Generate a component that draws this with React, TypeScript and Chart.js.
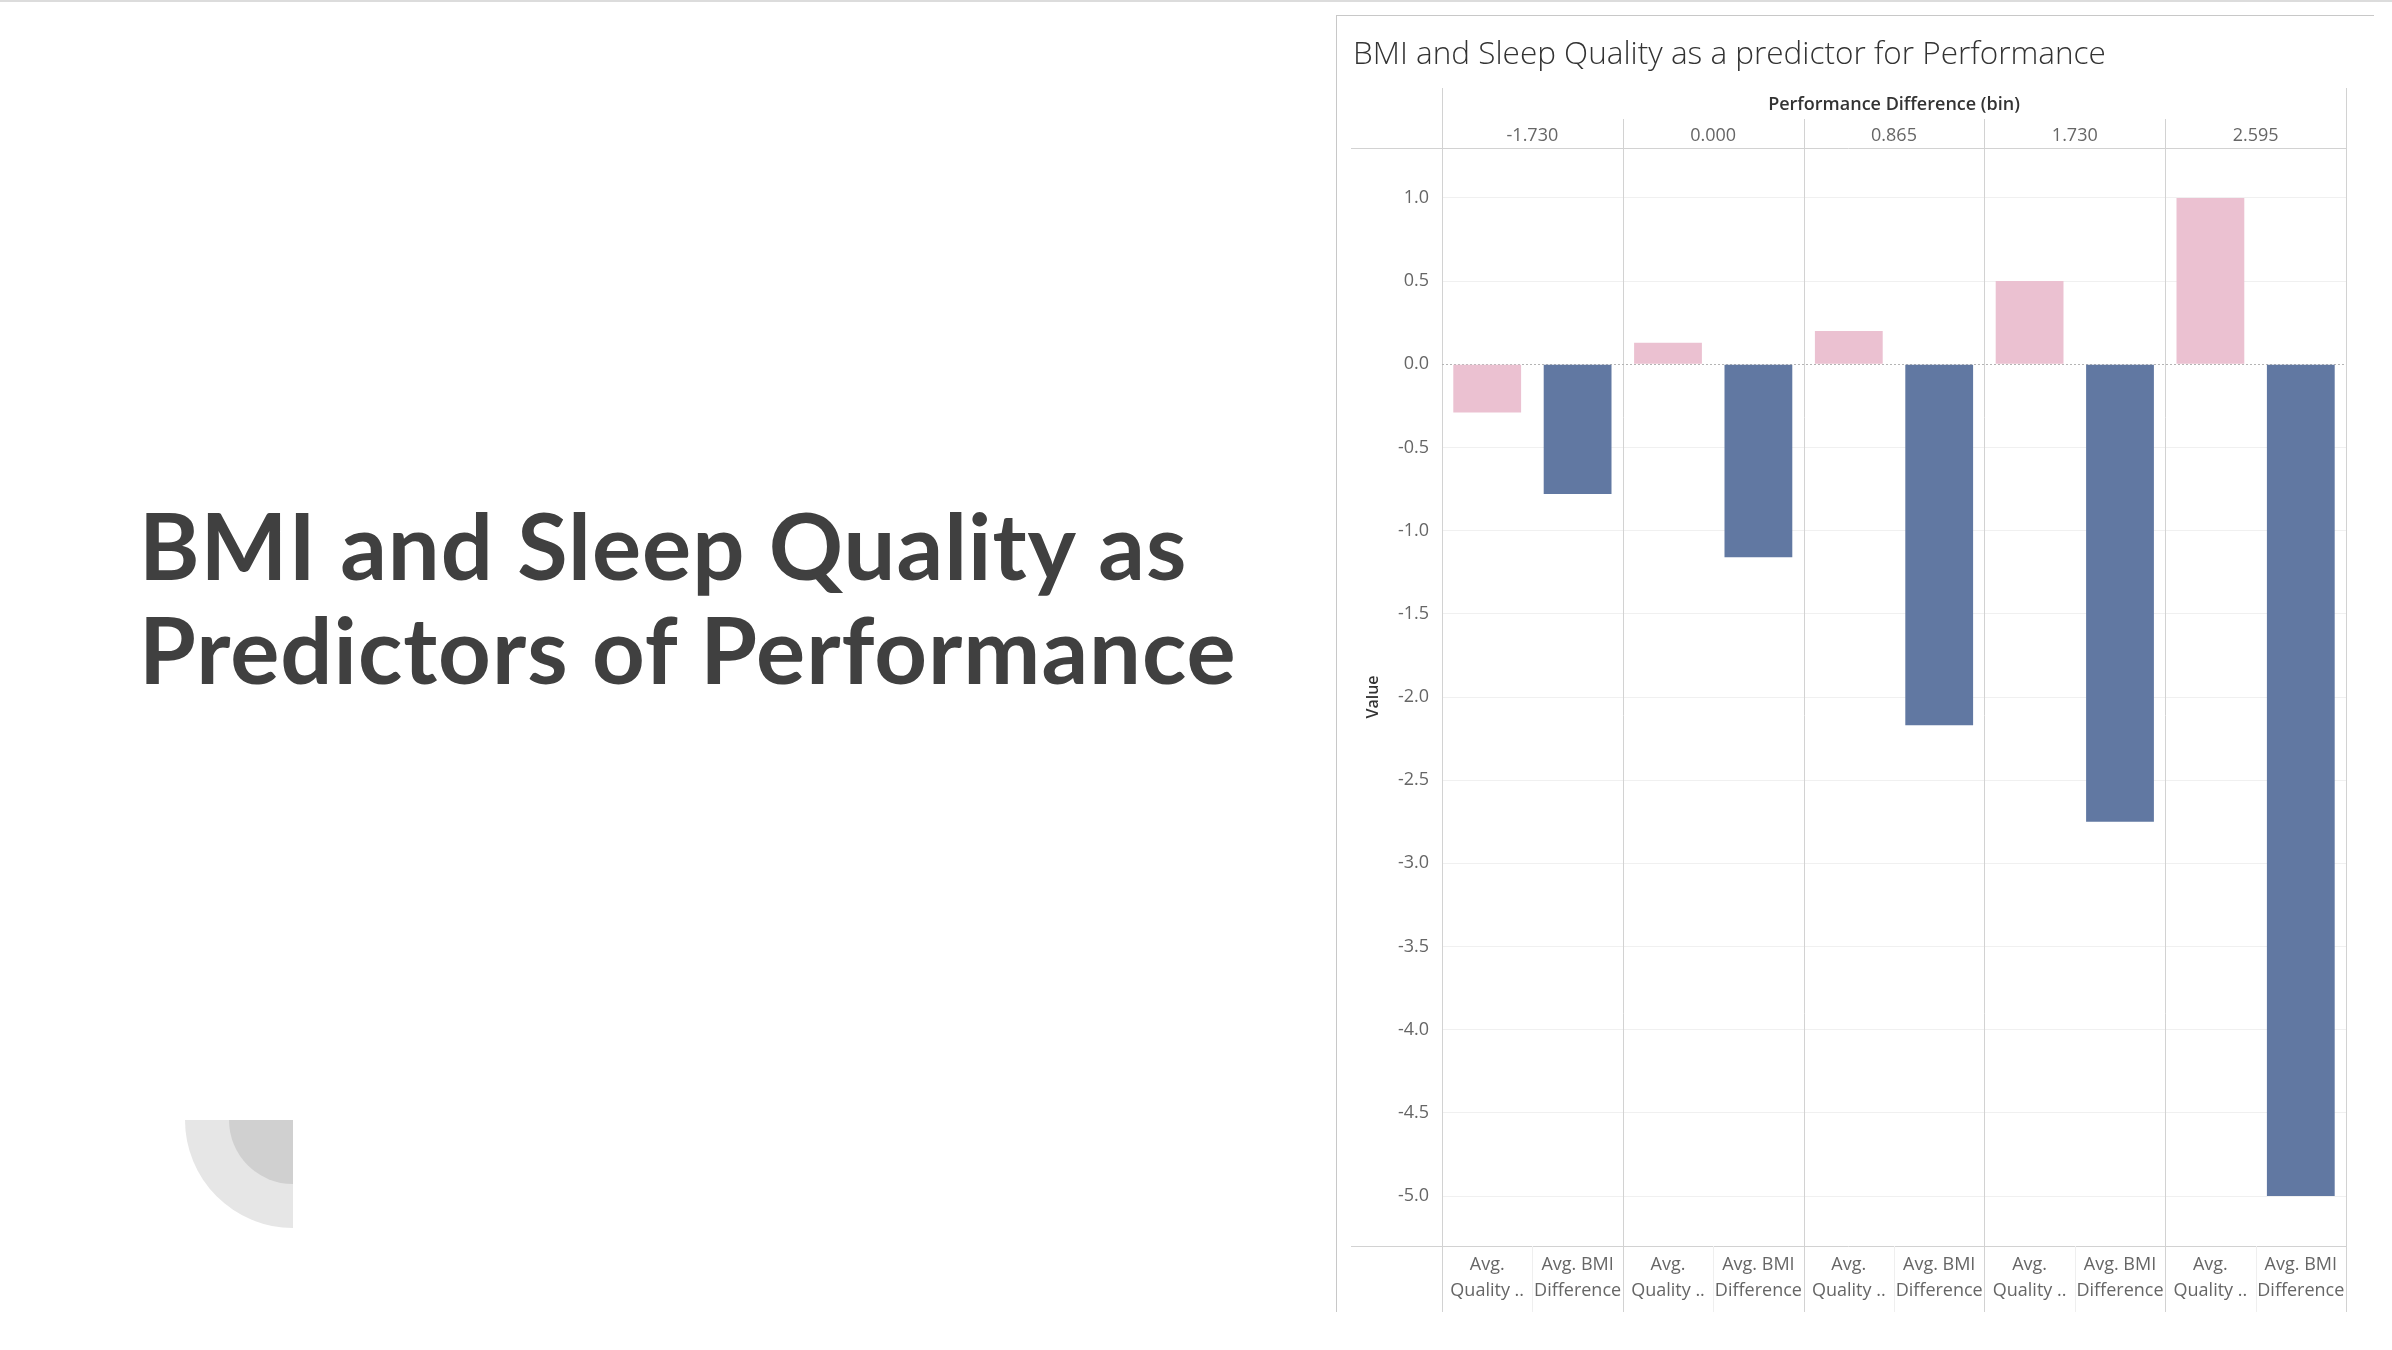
import { useEffect, useRef } from "react"
import { Chart, registerables } from "chart.js"

Chart.register(...registerables)

// bins of "Performance Difference (bin)" shown in the header row
const bins = ["-1.730", "0.000", "0.865", "1.730", "2.595"]
// the two measures in each bin
const measureLabels = [
  ["Avg.", "Quality .."],
  ["Avg. BMI", "Difference"],
]
// values, one per bin
const qualityValues = [-0.29, 0.13, 0.2, 0.5, 1.0]
const bmiDiffValues = [-0.78, -1.16, -2.17, -2.75, -5.0]
const yTicks = [1.0, 0.5, 0.0, -0.5, -1.0, -1.5, -2.0, -2.5, -3.0, -3.5, -4.0, -4.5, -5.0]

const PINK = "#EBC1D1"
const BLUE = "#6178A2"
const LINE = "#d2d2d2"

const tableLines = {
  id: "tableLines",
  beforeDatasetsDraw(chart: any) {
    const { ctx, chartArea, scales } = chart
    const { left, right, top, bottom } = chartArea
    const x = scales.x
    const y = scales.y
    const headTop = scales.x2.top
    const h = chart.height
    ctx.save()
    ctx.lineWidth = 1

    // header / footer rules
    ctx.strokeStyle = LINE
    ctx.beginPath()
    ctx.moveTo(14, Math.round(top) + 0.5)
    ctx.lineTo(right, Math.round(top) + 0.5)
    ctx.moveTo(14, Math.round(bottom) + 0.5)
    ctx.lineTo(right, Math.round(bottom) + 0.5)
    ctx.stroke()

    // bin separators
    for (let k = 0; k <= bins.length; k++) {
      let px
      if (k === 0) px = left
      else if (k === bins.length) px = right
      else px = (x.getPixelForValue(2 * k - 1) + x.getPixelForValue(2 * k)) / 2
      const y0 = k === 0 || k === bins.length ? headTop : headTop + 31
      ctx.beginPath()
      ctx.moveTo(Math.round(px) + 0.5, y0)
      ctx.lineTo(Math.round(px) + 0.5, h)
      ctx.stroke()
    }

    // faint dividers between the measure labels
    ctx.strokeStyle = "#efefef"
    for (let k = 0; k < bins.length; k++) {
      const px = (x.getPixelForValue(2 * k) + x.getPixelForValue(2 * k + 1)) / 2
      ctx.beginPath()
      ctx.moveTo(Math.round(px) + 0.5, bottom)
      ctx.lineTo(Math.round(px) + 0.5, h)
      ctx.stroke()
    }

    // dotted zero line
    const y0 = Math.round(y.getPixelForValue(0)) + 0.5
    ctx.strokeStyle = "#b4b4b4"
    ctx.setLineDash([2, 2])
    ctx.beginPath()
    ctx.moveTo(left, y0)
    ctx.lineTo(right, y0)
    ctx.stroke()
    ctx.restore()
  },
}

const BarChart = () => {
  const chartRef = useRef<HTMLCanvasElement | null>(null)
  const chartInstance = useRef<Chart | null>(null)

  useEffect(() => {
    if (!chartRef.current) return
    const ctx = chartRef.current.getContext("2d")
    if (!ctx) return
    if (chartInstance.current) chartInstance.current.destroy()

    const labels: string[][] = []
    const qualityData: (number | null)[] = []
    const bmiData: (number | null)[] = []
    bins.forEach((_, i) => {
      labels.push(measureLabels[0], measureLabels[1])
      qualityData.push(qualityValues[i], null)
      bmiData.push(null, bmiDiffValues[i])
    })

    const tickFont = { family: "'Open Sans', 'Noto Sans', sans-serif", size: 18 }

    chartInstance.current = new Chart(ctx, {
      type: "bar",
      data: {
        labels,
        datasets: [
          {
            label: "Avg. Quality ..",
            data: qualityData,
            backgroundColor: PINK,
            grouped: false,
            barPercentage: 0.75,
            categoryPercentage: 1,
          },
          {
            label: "Avg. BMI Difference",
            data: bmiData,
            backgroundColor: BLUE,
            grouped: false,
            barPercentage: 0.75,
            categoryPercentage: 1,
          },
        ],
      } as any,
      options: {
        animation: false,
        responsive: true,
        maintainAspectRatio: false,
        layout: { padding: { left: 16, right: 28, top: 0, bottom: 0 } },
        plugins: {
          legend: { display: false },
          tooltip: { enabled: false },
          title: {
            display: true,
            text: "BMI and Sleep Quality as a predictor for Performance",
            align: "start",
            color: "#333333",
            font: { family: "'Open Sans', Lato, sans-serif", size: 31.5, weight: "300" },
            padding: { top: 20, bottom: 14.2 },
          },
        },
        scales: {
          x: {
            type: "category",
            position: "bottom",
            offset: true,
            grid: { display: false, drawTicks: false },
            border: { display: false },
            ticks: {
              color: "#666666",
              font: { ...tickFont, lineHeight: 1.45 },
              padding: 5.5,
              autoSkip: false,
              maxRotation: 0,
            },
            afterFit: (s: any) => {
              s.height = 66
            },
          },
          x2: {
            type: "category",
            position: "top",
            labels: bins,
            offset: true,
            grid: { display: false, drawTicks: false },
            border: { display: false },
            ticks: { color: "#666666", font: tickFont, padding: 1.5, autoSkip: false, maxRotation: 0 },
            title: {
              display: true,
              text: "Performance Difference (bin)",
              color: "#333333",
              font: { family: "'Open Sans', 'Noto Sans', sans-serif", size: 18, weight: "600" },
              padding: { top: 6.5, bottom: 0 },
            },
            afterFit: (s: any) => {
              s.height = 60
            },
          },
          y: {
            min: -5.3,
            max: 1.3,
            afterBuildTicks: (s: any) => {
              s.ticks = yTicks.map((v) => ({ value: v }))
            },
            grid: {
              drawTicks: false,
              color: (c: any) => (c.tick && c.tick.value === 0 ? "rgba(0,0,0,0)" : "#f0f0f0"),
            },
            border: { display: false },
            ticks: {
              color: "#666666",
              font: tickFont,
              padding: 13,
              callback: (v: any) => Number(v).toFixed(1),
            },
            title: {
              display: true,
              text: "Value",
              color: "#333333",
              font: { family: "'Open Sans', 'Noto Sans', sans-serif", size: 16, weight: "600" },
              padding: { top: 11, bottom: 0 },
            },
            afterFit: (s: any) => {
              s.width = 89
            },
          },
        },
      } as any,
      plugins: [tableLines],
    })

    return () => {
      if (chartInstance.current) {
        chartInstance.current.destroy()
        chartInstance.current = null
      }
    }
  }, [])

  return <canvas ref={chartRef} />
}

export default function App() {
  return (
    <div
      style={{
        position: "relative",
        width: 2392,
        height: 1350,
        background: "#ffffff",
        overflow: "hidden",
      }}
    >
      <style>{"body{margin:0}"}</style>
      <div style={{ position: "absolute", left: 0, top: 0, width: 2392, height: 2, background: "#dcdcdc" }} />

      <div
        style={{
          position: "absolute",
          left: 139,
          top: 493,
          fontFamily: "Lato, 'Open Sans', sans-serif",
          fontWeight: 700,
          fontSize: 92,
          lineHeight: "104px",
          letterSpacing: 1,
          color: "#404040",
          whiteSpace: "nowrap",
        }}
      >
        BMI and Sleep Quality as
        <br />
        Predictors of Performance
      </div>

      <div
        style={{
          position: "absolute",
          left: 185,
          top: 1120,
          width: 108,
          height: 108,
          background: "#e6e6e6",
          borderBottomLeftRadius: 108,
        }}
      />
      <div
        style={{
          position: "absolute",
          left: 229,
          top: 1120,
          width: 64,
          height: 64,
          background: "#d0d0d0",
          borderBottomLeftRadius: 64,
        }}
      />

      <div
        style={{
          position: "absolute",
          left: 1336,
          top: 15,
          width: 1038,
          height: 1297,
          borderTop: "1px solid #c8c8c8",
          borderLeft: "1px solid #c8c8c8",
          boxSizing: "border-box",
        }}
      />
      <div style={{ position: "absolute", left: 1337, top: 16, width: 1037, height: 1296 }}>
        <BarChart />
      </div>
    </div>
  )
}
